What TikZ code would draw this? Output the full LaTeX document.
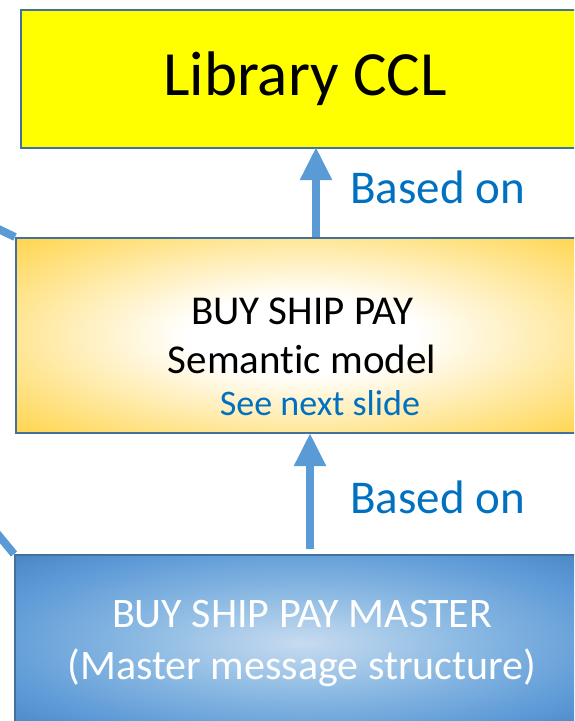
\documentclass[tikz,border=0pt]{standalone}
\usepackage{fontspec}
\setmainfont[RawFeature={-liga;-clig;-dlig}]{Carlito}
\usetikzlibrary{arrows.meta}
\definecolor{edgeblue}{HTML}{41719C}
\definecolor{arrowblue}{HTML}{5B9BD5}
\definecolor{textblue}{HTML}{0070C0}
\definecolor{cclyellow}{HTML}{FFFF00}
\pgfdeclareradialshading{orangeglow}{\pgfpoint{0bp}{0bp}}{rgb(0bp)=(1,1,1); rgb(10bp)=(1,1,1); rgb(30bp)=(1,0.87,0.45); rgb(45bp)=(1,0.77,0.05); rgb(50bp)=(1,0.75,0)}
\pgfdeclareradialshading{blueglow}{\pgfpoint{0bp}{0bp}}{rgb(0bp)=(0.78,0.86,0.94); rgb(14bp)=(0.55,0.73,0.89); rgb(28bp)=(0.36,0.60,0.84); rgb(42bp)=(0.24,0.46,0.70); rgb(50bp)=(0.17,0.37,0.58)}
\tikzset{
  box/.style={draw=edgeblue, line width=2pt, anchor=north west, inner sep=0pt, align=center},
  link/.style={draw=arrowblue, line width=8pt},
  up/.style={link, -{Triangle[width=30pt,length=33pt]}},
  based/.style={text=textblue, font=\fontsize{47}{56}\selectfont, anchor=west, inner sep=0pt},
}
\begin{document}
\begin{tikzpicture}[x=1pt,y=-1pt]
\clip (0,0) rectangle (574,721);
\fill[white] (0,0) rectangle (574,721);
\node[box, fill=cclyellow, minimum width=568pt, minimum height=138pt,
      font=\fontsize{63}{70}\selectfont] (ccl) at (20,9) {Library CCL};
\node[box, shading=orangeglow, minimum width=572pt, minimum height=195pt,
      font=\fontsize{41}{49}\selectfont] (sem) at (15,237) {BUY SHIP PAY\\Semantic model};
\node[box, shading=blueglow, minimum width=574pt, minimum height=176pt,
      text=white, font=\fontsize{42}{52}\selectfont] (mst) at (14,554) {BUY SHIP PAY MASTER\\(Master message structure)};
\node[text=textblue, font=\fontsize{36}{42}\selectfont, inner sep=0pt] (see) at (320,403) {See next slide};
\coordinate (a1) at (316,237);
\coordinate (a1t) at (316,147);
\coordinate (a2) at (310,549);
\coordinate (a2t) at (310,433);
\draw[up] (a1) -- (a1t);
\draw[up] (a2) -- (a2t);
\node[based] (b1) at (350,187) {Based on};
\node[based] (b2) at (350,497) {Based on};
\coordinate (l1) at (-10,225);
\coordinate (l2) at (-10,525);
\draw[link] (l1) -- (sem.north west);
\draw[link] (l2) -- (mst.north west);
\end{tikzpicture}
\end{document}
